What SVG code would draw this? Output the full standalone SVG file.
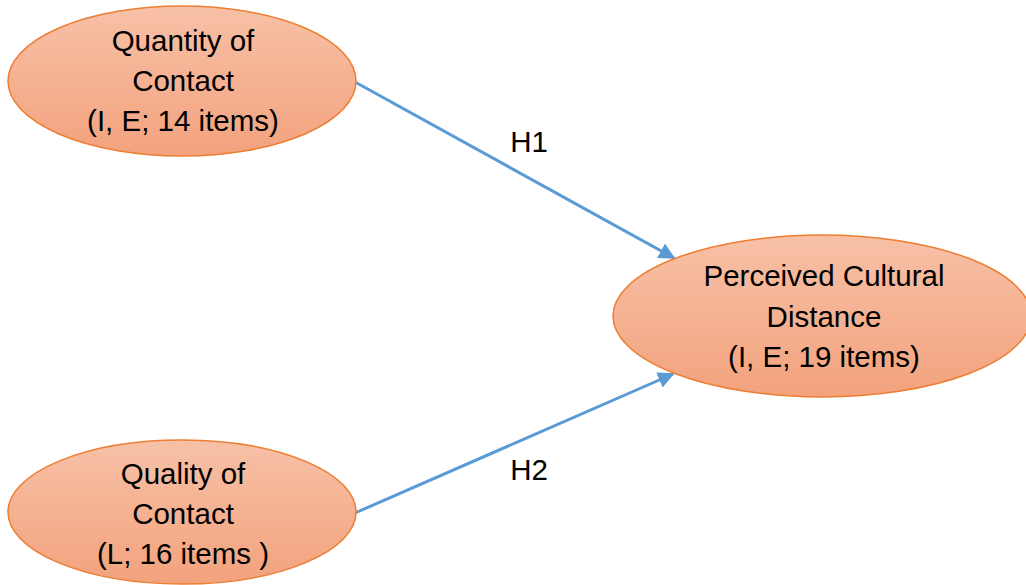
<svg xmlns="http://www.w3.org/2000/svg" width="1026" height="585" viewBox="0 0 1026 585">
  <defs>
    <linearGradient id="fillGrad" x1="0" y1="0" x2="0" y2="1">
      <stop offset="0" stop-color="#F7C1A7"/>
      <stop offset="1" stop-color="#F3A27D"/>
    </linearGradient>
    <marker id="arrow" viewBox="0 0 10 10" refX="9" refY="5" markerWidth="5.5" markerHeight="5.5" markerUnits="strokeWidth" orient="auto">
      <path d="M0,0 L10,5 L0,10 z" fill="#5B9BD5"/>
    </marker>
    <style>
      .node { fill: url(#fillGrad); stroke: #ED7D31; stroke-width: 1.5; }
      .label { font-family: "Liberation Sans", Arial, sans-serif; font-size: 29.5px; fill: #000; text-anchor: middle; }
      .edge { stroke: #5B9BD5; stroke-width: 3; fill: none; marker-end: url(#arrow); }
    </style>
  </defs>
  <rect width="1026" height="585" fill="#ffffff"/>
  <g id="connectors">
    <line class="edge" x1="355" y1="82" x2="674" y2="258"/>
    <line class="edge" x1="355" y1="513" x2="673" y2="374"/>
    <text class="label" x="529" y="152">H1</text>
    <text class="label" x="529" y="480">H2</text>
  </g>
  <g id="quantity">
    <ellipse class="node" cx="182" cy="81" rx="174" ry="75"/>
    <text class="label" x="183" y="51">Quantity of</text>
    <text class="label" x="183" y="91">Contact</text>
    <text class="label" x="183" y="131">(I, E; 14 items)</text>
  </g>
  <g id="perceived">
    <ellipse class="node" cx="822" cy="316" rx="209" ry="81"/>
    <text class="label" x="824" y="286">Perceived Cultural</text>
    <text class="label" x="824" y="327">Distance</text>
    <text class="label" x="824" y="367">(I, E; 19 items)</text>
  </g>
  <g id="quality">
    <ellipse class="node" cx="182" cy="512" rx="174" ry="72"/>
    <text class="label" x="183" y="484">Quality of</text>
    <text class="label" x="183" y="524">Contact</text>
    <text class="label" x="183" y="564">(L; 16 items )</text>
  </g>
</svg>
